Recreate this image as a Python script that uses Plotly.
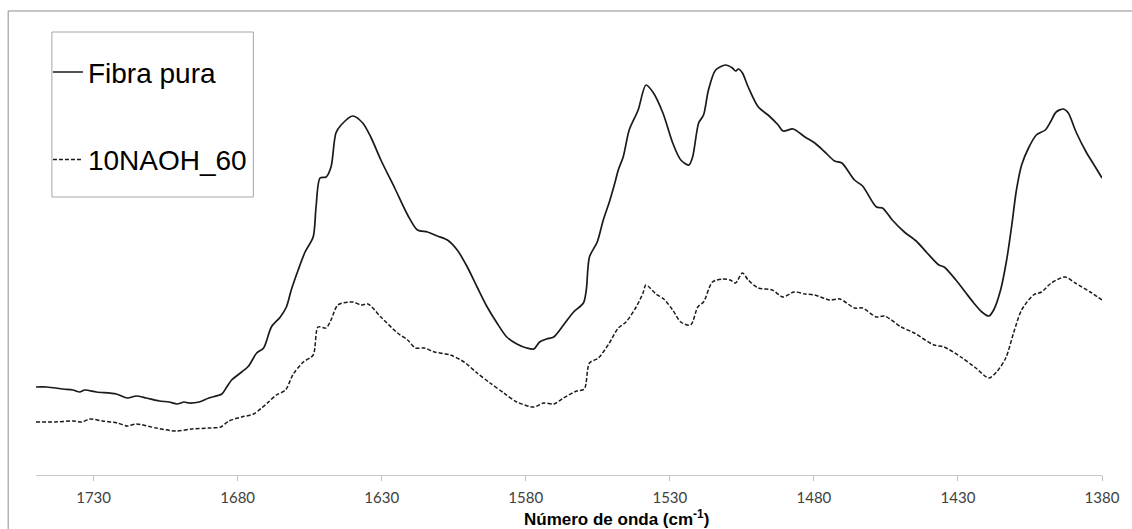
import plotly.graph_objects as go

# Wavenumber (cm-1) and absorbance (arbitrary units)
fibra_x = [1750.0, 1746.2, 1740.7, 1737.2, 1734.8, 1733.1, 1729.0, 1722.1, 1718.3, 1715.2,
           1711.7, 1707.2, 1703.8, 1701.0, 1698.6, 1696.9, 1693.4, 1690.0, 1685.5, 1683.8,
           1682.1, 1678.6, 1676.2, 1673.4, 1671.0, 1668.3, 1665.2, 1663.1, 1661.4, 1659.0,
           1656.6, 1653.8, 1652.8, 1651.4, 1649.3, 1647.6, 1645.9, 1644.1, 1640.0, 1636.6,
           1633.8, 1630.3, 1625.5, 1621.0, 1617.6, 1614.1, 1610.7, 1607.2, 1603.8, 1600.3,
           1596.9, 1593.4, 1590.0, 1586.6, 1583.1, 1579.7, 1577.2, 1575.2, 1572.8, 1570.3,
           1566.9, 1563.4, 1560.0, 1559.0, 1557.9, 1555.2, 1553.1, 1551.0, 1549.0, 1547.9,
           1546.2, 1544.1, 1541.0, 1538.3, 1535.9, 1532.4, 1529.0, 1526.2, 1523.4, 1522.1,
           1520.0, 1518.3, 1516.6, 1514.1, 1510.7, 1508.3, 1507.2, 1506.2, 1504.8, 1502.8,
           1499.3, 1495.9, 1492.4, 1490.7, 1487.2, 1483.1, 1479.7, 1476.2, 1472.8, 1470.3,
           1465.9, 1463.1, 1458.3, 1456.2, 1452.8, 1448.6, 1444.5, 1440.7, 1436.6, 1434.8,
           1430.7, 1427.2, 1424.5, 1421.7, 1419.3, 1417.6, 1415.2, 1413.1, 1411.4, 1409.7,
           1407.9, 1405.5, 1402.8, 1399.7, 1397.9, 1395.9, 1393.4, 1391.7, 1389.0, 1385.5,
           1382.1, 1380.0]
fibra_y = [0.088, 0.088, 0.086, 0.085, 0.083, 0.085, 0.083, 0.081, 0.077, 0.079,
           0.077, 0.074, 0.073, 0.071, 0.073, 0.072, 0.073, 0.077, 0.081, 0.088,
           0.095, 0.103, 0.109, 0.122, 0.127, 0.148, 0.158, 0.168, 0.185, 0.205,
           0.223, 0.238, 0.268, 0.297, 0.298, 0.308, 0.342, 0.350, 0.359, 0.352,
           0.338, 0.315, 0.287, 0.260, 0.245, 0.243, 0.239, 0.235, 0.225, 0.208,
           0.188, 0.168, 0.152, 0.138, 0.131, 0.127, 0.126, 0.133, 0.136, 0.138,
           0.150, 0.163, 0.172, 0.185, 0.218, 0.233, 0.255, 0.273, 0.293, 0.305,
           0.318, 0.345, 0.365, 0.390, 0.383, 0.362, 0.332, 0.315, 0.310, 0.318,
           0.352, 0.360, 0.385, 0.405, 0.410, 0.407, 0.404, 0.406, 0.402, 0.388,
           0.368, 0.360, 0.350, 0.344, 0.346, 0.338, 0.332, 0.323, 0.314, 0.312,
           0.295, 0.289, 0.268, 0.267, 0.255, 0.243, 0.234, 0.222, 0.210, 0.208,
           0.195, 0.182, 0.172, 0.163, 0.159, 0.165, 0.185, 0.215, 0.248, 0.285,
           0.310, 0.327, 0.340, 0.345, 0.353, 0.363, 0.366, 0.362, 0.343, 0.323,
           0.307, 0.297]

naoh_x = [1750.0, 1743.4, 1737.2, 1734.1, 1731.4, 1726.9, 1721.7, 1718.3, 1715.2, 1708.3,
          1701.4, 1695.9, 1690.0, 1685.9, 1683.1, 1678.6, 1674.5, 1671.7, 1669.3, 1666.6,
          1663.4, 1660.7, 1657.2, 1653.8, 1652.1, 1649.3, 1647.6, 1645.2, 1640.0, 1637.2,
          1634.8, 1630.3, 1624.5, 1621.0, 1618.3, 1615.2, 1611.7, 1606.2, 1601.4, 1596.9,
          1592.4, 1587.6, 1583.1, 1577.2, 1573.8, 1570.3, 1566.9, 1562.4, 1559.7, 1557.9,
          1554.8, 1551.0, 1547.9, 1545.2, 1541.7, 1539.3, 1538.3, 1534.8, 1532.1, 1529.0,
          1526.2, 1522.8, 1520.3, 1518.3, 1515.2, 1511.7, 1509.0, 1507.2, 1504.8, 1502.8,
          1499.3, 1494.5, 1490.7, 1486.9, 1483.1, 1479.7, 1474.5, 1471.0, 1465.9, 1463.1,
          1458.3, 1455.5, 1449.7, 1445.2, 1438.3, 1434.8, 1429.0, 1423.8, 1419.3, 1416.6,
          1413.4, 1410.7, 1407.9, 1403.8, 1401.0, 1397.6, 1392.8, 1389.3, 1384.1, 1380.0]
naoh_y = [0.053, 0.053, 0.054, 0.053, 0.056, 0.054, 0.052, 0.049, 0.051, 0.047,
          0.044, 0.046, 0.047, 0.048, 0.054, 0.058, 0.061, 0.067, 0.073, 0.080,
          0.085, 0.101, 0.113, 0.120, 0.148, 0.147, 0.155, 0.170, 0.173, 0.170,
          0.171, 0.158, 0.142, 0.135, 0.127, 0.127, 0.123, 0.120, 0.113, 0.102,
          0.092, 0.082, 0.073, 0.068, 0.072, 0.071, 0.077, 0.084, 0.086, 0.112,
          0.117, 0.132, 0.147, 0.153, 0.168, 0.182, 0.190, 0.181, 0.176, 0.165,
          0.153, 0.150, 0.168, 0.173, 0.193, 0.196, 0.195, 0.192, 0.202, 0.195,
          0.187, 0.185, 0.178, 0.183, 0.181, 0.180, 0.175, 0.176, 0.167, 0.167,
          0.158, 0.159, 0.148, 0.142, 0.130, 0.128, 0.118, 0.107, 0.097, 0.103,
          0.117, 0.142, 0.165, 0.180, 0.183, 0.192, 0.198, 0.192, 0.183, 0.175]

tick_vals = [1730, 1680, 1630, 1580, 1530, 1480, 1430, 1380]
x_range = [1750, 1380]
y_range = [0, 0.455]

fig = go.Figure()
fig.add_trace(go.Scatter(x=fibra_x, y=fibra_y, mode="lines", name="Fibra pura",
                         legendgroup="a",
                         line=dict(color="#1a1a1a", width=1.7, shape="spline", smoothing=0.8)))
fig.add_trace(go.Scatter(x=naoh_x, y=naoh_y, mode="lines", name="10NAOH_60",
                         legendgroup="b",
                         line=dict(color="#1a1a1a", width=1.5, dash="4px,2px",
                                   shape="spline", smoothing=0.8)))

fig.update_layout(
    width=1132, height=529,
    margin=dict(l=36, r=22, t=20, b=54),
    paper_bgcolor="white", plot_bgcolor="white",
    showlegend=True,
    legend=dict(x=0.0112, y=0.94, xanchor="left", yanchor="top",
                font=dict(family="Liberation Sans, Arial, sans-serif", size=28, color="#000000"),
                bgcolor="rgba(0,0,0,0)", borderwidth=0,
                traceorder="grouped", tracegroupgap=48, itemwidth=30),
    xaxis=dict(range=x_range, tickvals=tick_vals, ticks="outside", ticklen=5,
               tickcolor="#bfbfbf", showline=True, linecolor="#c8c8c8", linewidth=1,
               showgrid=False, zeroline=False, ticklabelstandoff=4,
               tickfont=dict(family="Lato, Carlito, sans-serif", size=15, color="#404040")),
    yaxis=dict(range=y_range, visible=False, showgrid=False, zeroline=False),
    shapes=[
        dict(type="rect", xref="paper", yref="paper", x0=0.0149, x1=0.2039, y0=0.611, y1=0.9736,
             line=dict(color="#a6a6a6", width=1), fillcolor="rgba(0,0,0,0)", layer="below"),
        dict(type="rect", xref="paper", yref="paper", x0=-0.0261, x1=1.03, y0=-0.135, y1=1.0198,
             line=dict(color="#8c8c8c", width=1), fillcolor="rgba(0,0,0,0)", layer="below"),
    ],
    annotations=[
        dict(text="<b>Número de onda (cm<sup>-1</sup>)</b>", xref="paper", yref="paper",
             x=0.545, y=-0.095, xanchor="center", yanchor="middle", showarrow=False,
             font=dict(family="Liberation Sans, Arial, sans-serif", size=17, color="#000000")),
    ],
)

fig.write_html("out.html")
